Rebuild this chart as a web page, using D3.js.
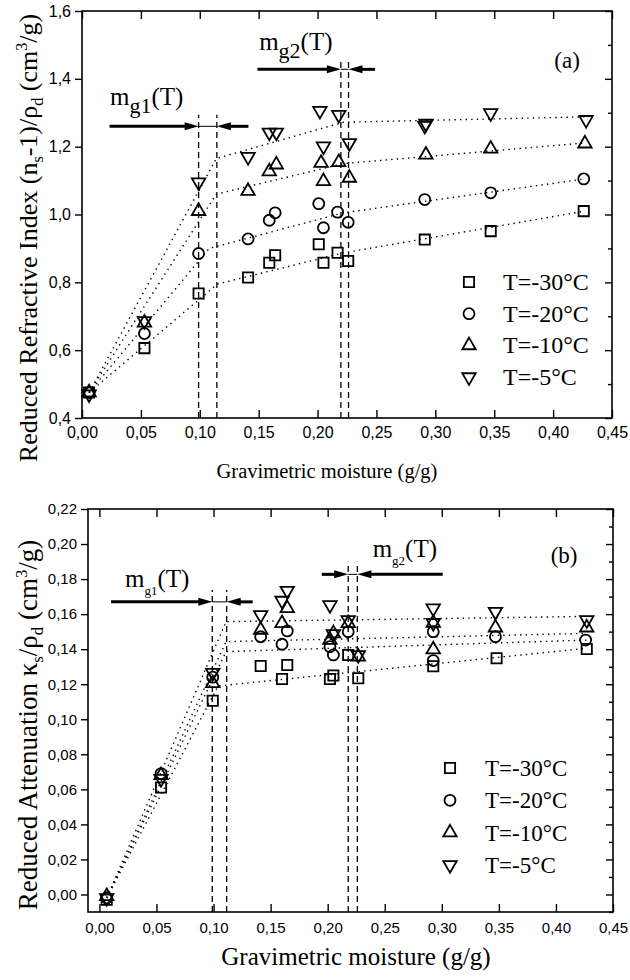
<!DOCTYPE html>
<html>
<head>
<meta charset="utf-8">
<script src="https://cdn.jsdelivr.net/npm/d3@7"></script>
<style>
  body { margin: 0; background: #fff; }
  text { fill: #000; }
</style>
</head>
<body>
<div id="chart"></div>
<script>
// legend labels, one per temperature
const tempLabels = ['T=-30°C', 'T=-20°C', 'T=-10°C', 'T=-5°C'];
const xTicks = [0, 0.05, 0.1, 0.15, 0.2, 0.25, 0.3, 0.35, 0.4, 0.45];

// (a) reduced refractive index, [moisture, value]
const refr30 = [[0.006, 0.475], [0.053, 0.606], [0.099, 0.767], [0.141, 0.814], [0.159, 0.858], [0.164, 0.880], [0.201, 0.912], [0.205, 0.858], [0.217, 0.887], [0.226, 0.863], [0.291, 0.926], [0.347, 0.951], [0.426, 1.010]];
const refr20 = [[0.006, 0.475], [0.053, 0.649], [0.099, 0.885], [0.141, 0.928], [0.159, 0.983], [0.164, 1.005], [0.201, 1.032], [0.205, 0.961], [0.217, 1.007], [0.226, 0.977], [0.291, 1.044], [0.347, 1.064], [0.426, 1.105]];
const refr10 = [[0.006, 0.475], [0.053, 0.681], [0.099, 1.010], [0.141, 1.069], [0.159, 1.127], [0.165, 1.147], [0.203, 1.152], [0.205, 1.098], [0.218, 1.154], [0.227, 1.108], [0.292, 1.176], [0.347, 1.194], [0.427, 1.209]];
const refr5 = [[0.006, 0.470], [0.053, 0.686], [0.099, 1.095], [0.141, 1.170], [0.159, 1.242], [0.165, 1.242], [0.202, 1.306], [0.205, 1.201], [0.218, 1.294], [0.227, 1.211], [0.292, 1.268], [0.291, 1.262], [0.347, 1.299], [0.428, 1.279]];

// (a) piecewise fits
const fitA30 = [[0.006, 0.475], [0.115, 0.795], [0.222, 0.887], [0.427, 1.010]];
const fitA20 = [[0.006, 0.475], [0.108, 0.900], [0.222, 1.005], [0.427, 1.105]];
const fitA10 = [[0.006, 0.475], [0.114, 1.060], [0.222, 1.150], [0.427, 1.211]];
const fitA5 = [[0.006, 0.475], [0.114, 1.165], [0.222, 1.272], [0.427, 1.288]];

// (b) reduced attenuation
const att30 = [[0.0064, -0.003], [0.054, 0.061], [0.0993, 0.1106], [0.1413, 0.1304], [0.160, 0.123], [0.1646, 0.131], [0.202, 0.123], [0.205, 0.125], [0.218, 0.1367], [0.2268, 0.1234], [0.2925, 0.1302], [0.348, 0.1348], [0.427, 0.1401]];
const att20 = [[0.0064, -0.002], [0.054, 0.069], [0.0993, 0.124], [0.1413, 0.1471], [0.160, 0.1428], [0.1646, 0.1504], [0.202, 0.1414], [0.205, 0.1367], [0.218, 0.150], [0.2925, 0.150], [0.2925, 0.1335], [0.347, 0.1471], [0.426, 0.1452]];
const att10 = [[0.0064, -0.001], [0.054, 0.068], [0.0993, 0.1205], [0.1413, 0.151], [0.160, 0.1548], [0.1646, 0.1633], [0.202, 0.1452], [0.205, 0.149], [0.218, 0.1548], [0.2268, 0.1357], [0.2925, 0.155], [0.2925, 0.1398], [0.347, 0.1523], [0.427, 0.1523]];
const att5 = [[0.0064, -0.002], [0.054, 0.066], [0.0993, 0.1266], [0.1413, 0.1595], [0.160, 0.1677], [0.1646, 0.1734], [0.202, 0.1652], [0.205, 0.1487], [0.218, 0.1566], [0.2268, 0.1367], [0.2925, 0.1633], [0.2925, 0.155], [0.347, 0.1614], [0.427, 0.1566]];

// (b) fits
const fitB30 = [[0.0064, -0.002], [0.104, 0.119], [0.427, 0.1405]];
const fitB20 = [[0.0064, -0.002], [0.111, 0.1386], [0.427, 0.1452]];
const fitB10 = [[0.0064, -0.002], [0.111, 0.1443], [0.427, 0.149]];
const fitB5 = [[0.0064, -0.002], [0.111, 0.1557], [0.427, 0.1587]];

// transition moistures mg1 / mg2 (pairs of dashed lines)
const mg1A = [0.099, 0.1145];
const mg2A = [0.2198, 0.2263];
const mg1B = [0.0989, 0.1115];
const mg2B = [0.218, 0.226];

const svg = d3.select('#chart')
  .append('svg')
  .attr('width', 630)
  .attr('height', 980);

const serif = 'Liberation Serif, Times New Roman, serif';
const sans = 'Liberation Sans, Arial, sans-serif';

const symTypes = [d3.symbolSquare, d3.symbolCircle, d3.symbolTriangle, d3.symbolTriangle];
const symSizes = [105, 95, 78, 78];
const symRot = [0, 0, 0, 180];

function marker(sel, i) {
  sel.attr('d', d3.symbol().type(symTypes[i]).size(symSizes[i])())
    .attr('fill', 'none')
    .attr('stroke', '#000')
    .attr('stroke-width', 1.8);
}

function drawPanel(p) {
  const x = d3.scaleLinear().domain(p.xDomain).range([p.left, p.right]);
  const y = d3.scaleLinear().domain(p.yDomain).range([p.bottom, p.top]);
  const g = svg.append('g');
  const fmtX = v => d3.format('.2f')(v).replace('.', ',');
  const fmtY = v => d3.format(p.yFmt)(v).replace('.', ',');

  // axes
  const bx = g.append('g')
    .attr('transform', `translate(0,${p.bottom})`)
    .call(d3.axisBottom(x).tickValues(xTicks).tickSize(-8).tickPadding(p.xPad).tickFormat(fmtX));
  const tx = g.append('g')
    .attr('transform', `translate(0,${p.top})`)
    .call(d3.axisTop(x).tickValues(xTicks).tickSize(-8).tickFormat(''));
  const ly = g.append('g')
    .attr('transform', `translate(${p.left},0)`)
    .call(d3.axisLeft(y).tickValues(p.yTicks).tickSize(7).tickPadding(p.yPad).tickFormat(fmtY));
  const ry = g.append('g')
    .attr('transform', `translate(${p.right},0)`)
    .call(d3.axisRight(y).tickValues(p.yTicks).tickSize(-7).tickFormat(''));
  const rm = g.append('g')
    .attr('transform', `translate(${p.right},0)`)
    .call(d3.axisRight(y).tickValues(p.yMinor).tickSize(-4).tickFormat(''));
  [bx, tx, ly, ry, rm].forEach((a) => {
    a.select('.domain').remove();
    a.selectAll('line').attr('stroke', '#000').attr('stroke-width', 1.4);
  });
  bx.selectAll('text').style('font-family', sans).style('font-size', p.xTickSize + 'px');
  ly.selectAll('text').style('font-family', sans).style('font-size', p.yTickSize + 'px');

  g.append('rect')
    .attr('x', p.left).attr('y', p.top)
    .attr('width', p.right - p.left).attr('height', p.bottom - p.top)
    .attr('fill', 'none').attr('stroke', '#000').attr('stroke-width', 1.6);

  // dashed lines for mg1, mg2
  [[p.mg1, p.mg1Top], [p.mg2, p.mg2Top]].forEach(([pair, topV]) => {
    pair.forEach((v) => {
      g.append('line')
        .attr('x1', x(v)).attr('x2', x(v))
        .attr('y1', y(p.yDomain[0])).attr('y2', y(topV))
        .attr('stroke', '#000').attr('stroke-width', 1.3)
        .attr('stroke-dasharray', '6,4');
    });
  });

  // arrows
  p.arrows.forEach((a) => {
    const [mg, yv, tailL, tailR] = a;
    const yy = y(yv);
    const xl = x(mg[0]);
    const xr = x(mg[1]);
    g.append('line').attr('x1', x(tailL)).attr('x2', xl - 10).attr('y1', yy).attr('y2', yy)
      .attr('stroke', '#000').attr('stroke-width', 3);
    g.append('line').attr('x1', xr + 10).attr('x2', x(tailR)).attr('y1', yy).attr('y2', yy)
      .attr('stroke', '#000').attr('stroke-width', 3);
    g.append('line').attr('x1', xl).attr('x2', xr).attr('y1', yy).attr('y2', yy)
      .attr('stroke', '#000').attr('stroke-width', 1);
    g.append('path')
      .attr('d', `M${xl},${yy}L${xl - 14},${yy - 4}L${xl - 14},${yy + 4}Z`)
      .attr('fill', '#000');
    g.append('path')
      .attr('d', `M${xr},${yy}L${xr + 14},${yy - 4}L${xr + 14},${yy + 4}Z`)
      .attr('fill', '#000');
  });

  // fits
  const line = d3.line().x(d => x(d[0])).y(d => y(d[1]));
  p.fits.forEach((f) => {
    g.append('path')
      .attr('d', line(f))
      .attr('fill', 'none')
      .attr('stroke', '#000')
      .attr('stroke-width', 1.4)
      .attr('stroke-dasharray', '1.4,4.2');
  });

  // data points
  p.series.forEach((s, i) => {
    g.append('g').selectAll('path')
      .data(s)
      .join('path')
      .call(marker, i)
      .attr('transform', d => `translate(${x(d[0])},${y(d[1])}) rotate(${symRot[i]})`);
  });

  // mg labels
  p.mgLabels.forEach((l) => {
    const t = g.append('text')
      .attr('x', x(l.x)).attr('y', y(l.y))
      .style('font-family', serif)
      .style('font-size', p.mgSize + 'px');
    t.append('tspan').text('m');
    t.append('tspan').attr('dy', p.subDy).style('font-size', p.subSize + 'px').text(l.sub);
    t.append('tspan').attr('dy', -p.subDy).text('(T)');
  });

  g.append('text')
    .attr('x', x(p.panelLabel.x)).attr('y', y(p.panelLabel.y))
    .style('font-family', serif).style('font-size', '23px')
    .text(p.panelLabel.text);

  // legend
  tempLabels.forEach((lab, i) => {
    const yy = p.legend.y + i * p.legend.dy;
    g.append('path').call(marker, i)
      .attr('transform', `translate(${p.legend.x},${yy}) rotate(${symRot[i]})`);
    g.append('text')
      .attr('x', p.legend.x + p.legend.gap).attr('y', yy + 8)
      .style('font-family', serif).style('font-size', p.legend.size + 'px')
      .text(lab);
  });

  // axis titles
  g.append('text')
    .attr('x', p.xTitle.x).attr('y', p.xTitle.y)
    .attr('text-anchor', 'middle')
    .style('font-family', serif).style('font-size', p.xTitle.size + 'px')
    .text('Gravimetric moisture (g/g)');

  const yt = g.append('text')
    .attr('transform', `translate(${p.yTitle.x},${p.yTitle.y}) rotate(-90)`)
    .attr('text-anchor', 'middle')
    .style('font-family', serif).style('font-size', p.yTitle.size + 'px');
  p.yTitle.parts.forEach(([txt, kind]) => {
    const ts = yt.append('tspan').text(txt);
    if (kind === 'sub') ts.attr('dy', 6).style('font-size', '0.62em');
    if (kind === 'sup') ts.attr('dy', -10).style('font-size', '0.62em');
    if (kind === 'back') ts.attr('dy', -6);
    if (kind === 'down') ts.attr('dy', 10);
  });
}

drawPanel({
  left: 82, right: 612, top: 11, bottom: 418,
  xDomain: [0, 0.45], yDomain: [0.4, 1.6],
  yTicks: [0.4, 0.6, 0.8, 1.0, 1.2, 1.4, 1.6],
  yMinor: [0.5, 0.7, 0.9, 1.1, 1.3, 1.5],
  yFmt: '.1f', xPad: 9, yPad: 4, xTickSize: 16, yTickSize: 16,
  series: [refr30, refr20, refr10, refr5],
  fits: [fitA30, fitA20, fitA10, fitA5],
  mg1: mg1A, mg2: mg2A, mg1Top: 1.294, mg2Top: 1.453,
  arrows: [[mg1A, 1.26, 0.0234, 0.1413], [mg2A, 1.428, 0.149, 0.2487]],
  mgLabels: [{ x: 0.0238, y: 1.3235, sub: 'g1' }, { x: 0.1504, y: 1.485, sub: 'g2' }],
  mgSize: 25, subSize: 22, subDy: 8,
  panelLabel: { x: 0.401, y: 1.433, text: '(a)' },
  legend: { x: 469, y: 282, dy: 31.7, gap: 34, size: 24 },
  xTitle: { x: 327, y: 478, size: 20.5 },
  yTitle: {
    x: 37, y: 238, size: 26,
    parts: [['Reduced Refractive Index (n', ''], ['s', 'sub'], ['-1)/ρ', 'back'], ['d', 'sub'], [' (cm', 'back'], ['3', 'sup'], ['/g)', 'down']],
  },
});

drawPanel({
  left: 88, right: 613, top: 509, bottom: 912,
  xDomain: [-0.01, 0.45], yDomain: [-0.01, 0.22],
  yTicks: [0, 0.02, 0.04, 0.06, 0.08, 0.1, 0.12, 0.14, 0.16, 0.18, 0.2, 0.22],
  yMinor: [-0.01, 0.01, 0.03, 0.05, 0.07, 0.09, 0.11, 0.13, 0.15, 0.17, 0.19, 0.21],
  yFmt: '.2f', xPad: 10, yPad: 4, xTickSize: 15, yTickSize: 15,
  series: [att30, att20, att10, att5],
  fits: [fitB30, fitB20, fitB10, fitB5],
  mg1: mg1B, mg2: mg2B, mg1Top: 0.1738, mg2Top: 0.1899,
  arrows: [[mg1B, 0.167, 0.0102, 0.1343], [mg2B, 0.1827, 0.1948, 0.3008]],
  mgLabels: [{ x: 0.0224, y: 0.1757, sub: 'g1' }, { x: 0.2394, y: 0.1926, sub: 'g2' }],
  mgSize: 25, subSize: 13, subDy: 8,
  panelLabel: { x: 0.3954, y: 0.189, text: '(b)' },
  legend: { x: 450, y: 768, dy: 32.3, gap: 35, size: 23 },
  xTitle: { x: 356, y: 965, size: 25 },
  yTitle: {
    x: 37, y: 725, size: 27,
    parts: [['Reduced Attenuation κ', ''], ['s', 'sub'], ['/ρ', 'back'], ['d', 'sub'], [' (cm', 'back'], ['3', 'sup'], ['/g)', 'down']],
  },
});
</script>
</body>
</html>
